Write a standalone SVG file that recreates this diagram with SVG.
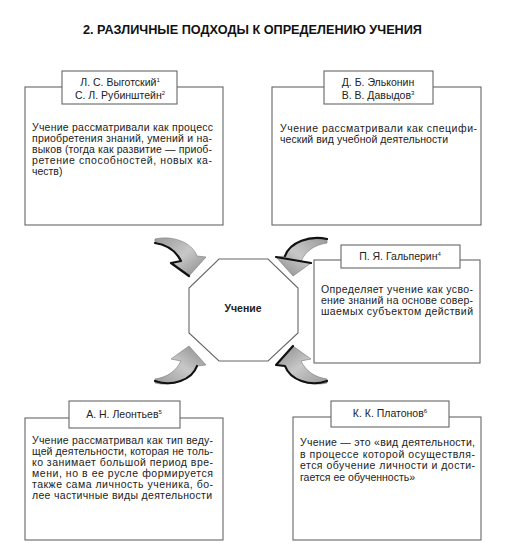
<svg xmlns="http://www.w3.org/2000/svg" width="514" height="555" viewBox="0 0 514 555">
<style>
.box{fill:#fff;stroke:#666;stroke-width:1.1}
.t{font-family:"Liberation Sans",Arial,sans-serif;font-size:10.5px;fill:#222}
.h{text-anchor:middle}
.sup{font-size:6px}
.title{font-family:"Liberation Sans",Arial,sans-serif;font-weight:900;font-size:12.5px;fill:#111}
.arr{fill:url(#g);stroke:#777;stroke-width:0.6}
.dk{fill:none;stroke:#111;stroke-width:2.2;stroke-linecap:round;stroke-linejoin:round}
</style>
<defs>
<linearGradient id="g" x1="0" y1="0" x2="1" y2="1">
<stop offset="0" stop-color="#9a9a9a"/>
<stop offset="0.5" stop-color="#c8c8c8"/>
<stop offset="1" stop-color="#888"/>
</linearGradient>
<path id="ar" d="M155,239 C172,235 192,242 197,256 L206,257 L189,276 L171,263 L181,261 C176,251 168,245 155,243 Z"/>
</defs>
<rect width="514" height="555" fill="#fff"/>
<text class="title" x="83" y="34" textLength="339" lengthAdjust="spacingAndGlyphs">2. РАЗЛИЧНЫЕ ПОДХОДЫ К ОПРЕДЕЛЕНИЮ УЧЕНИЯ</text>

<g id="connectors">
<g id="arrow-tl">
<use href="#ar" class="arr"/>
<path class="dk" d="M155,243 C168,245 176,251 181,261 L171,263 L189,276"/>
</g>
<g id="arrow-tr" transform="translate(482,0) scale(-1,1)">
<use href="#ar" class="arr"/>
<path class="dk" d="M155,239 C172,235 192,242 197,256 M171,263 L206,257"/>
</g>
<g id="arrow-bl" transform="translate(0,622) scale(1,-1)">
<use href="#ar" class="arr"/>
<path class="dk" d="M155,241 C172,235 192,242 197,256"/>
</g>
<g id="arrow-br" transform="translate(482,622) scale(-1,-1)">
<use href="#ar" class="arr"/>
<path class="dk" d="M155,241 C172,235 192,242 197,256 L206,257 L189,276"/>
</g>
</g>

<g id="node-vygotsky">
<rect class="box" x="25" y="87" width="198" height="138"/>
<rect class="box" x="62" y="71" width="115" height="33"/>
<text class="t h" x="120" y="86">Л. С. Выготский<tspan class="sup" dy="-4">1</tspan></text>
<text class="t h" x="120" y="99">С. Л. Рубинштейн<tspan class="sup" dy="-4">2</tspan></text>
<text class="t" x="32" y="131" textLength="181" lengthAdjust="spacing">Учение рассматривали как процесс</text>
<text class="t" x="32" y="142" textLength="180" lengthAdjust="spacing">приобретения знаний, умений и на-</text>
<text class="t" x="32" y="153" textLength="180" lengthAdjust="spacing">выков (тогда как развитие — приоб-</text>
<text class="t" x="32" y="164" textLength="180" lengthAdjust="spacing">ретение способностей, новых ка-</text>
<text class="t" x="32" y="175">честв)</text>
</g>

<g id="node-elkonin">
<rect class="box" x="272" y="87" width="209" height="138"/>
<rect class="box" x="324" y="71" width="109" height="33"/>
<text class="t h" x="378" y="86">Д. Б. Эльконин</text>
<text class="t h" x="378" y="99">В. В. Давыдов<tspan class="sup" dy="-4">3</tspan></text>
<text class="t" x="280" y="132" textLength="197" lengthAdjust="spacing">Учение рассматривали как специфи-</text>
<text class="t" x="280" y="143" textLength="168" lengthAdjust="spacing">ческий вид учебной деятельности</text>
</g>

<g id="node-uchenie">
<polygon class="box" points="219,259 268,259 298,288 298,333 268,361 219,361 189,333 189,288"/>
<text class="t h" x="243" y="312" style="font-weight:bold">Учение</text>
</g>

<g id="node-galperin">
<rect class="box" x="314" y="260" width="166" height="103"/>
<rect class="box" x="341" y="245" width="119" height="23"/>
<text class="t h" x="400" y="260">П. Я. Гальперин<tspan class="sup" dy="-4">4</tspan></text>
<text class="t" x="321" y="293" textLength="152" lengthAdjust="spacing">Определяет учение как усво-</text>
<text class="t" x="321" y="304" textLength="152" lengthAdjust="spacing">ение знаний на основе совер-</text>
<text class="t" x="321" y="315" textLength="152" lengthAdjust="spacing">шаемых субъектом действий</text>
</g>

<g id="node-leontiev">
<rect class="box" x="25" y="418" width="198" height="122"/>
<rect class="box" x="69" y="401" width="111" height="27"/>
<text class="t h" x="124" y="418">А. Н. Леонтьев<tspan class="sup" dy="-4">5</tspan></text>
<text class="t" x="32" y="444" textLength="181" lengthAdjust="spacing">Учение рассматривал как тип веду-</text>
<text class="t" x="32" y="455" textLength="181" lengthAdjust="spacing">щей деятельности, которая не толь-</text>
<text class="t" x="32" y="466" textLength="181" lengthAdjust="spacing">ко занимает большой период вре-</text>
<text class="t" x="32" y="477" textLength="181" lengthAdjust="spacing">мени, но в ее русле формируется</text>
<text class="t" x="32" y="488" textLength="181" lengthAdjust="spacing">также сама личность ученика, бо-</text>
<text class="t" x="32" y="499" textLength="180" lengthAdjust="spacing">лее частичные виды деятельности</text>
</g>

<g id="node-platonov">
<rect class="box" x="293" y="417" width="188" height="123"/>
<rect class="box" x="331" y="401" width="118" height="26"/>
<text class="t h" x="390" y="417">К. К. Платонов<tspan class="sup" dy="-4">6</tspan></text>
<text class="t" x="300" y="446" textLength="175" lengthAdjust="spacing">Учение — это «вид деятельности,</text>
<text class="t" x="300" y="458" textLength="175" lengthAdjust="spacing">в процессе которой осуществля-</text>
<text class="t" x="300" y="469" textLength="175" lengthAdjust="spacing">ется обучение личности и дости-</text>
<text class="t" x="300" y="481">гается ее обученность»</text>
</g>
</svg>
